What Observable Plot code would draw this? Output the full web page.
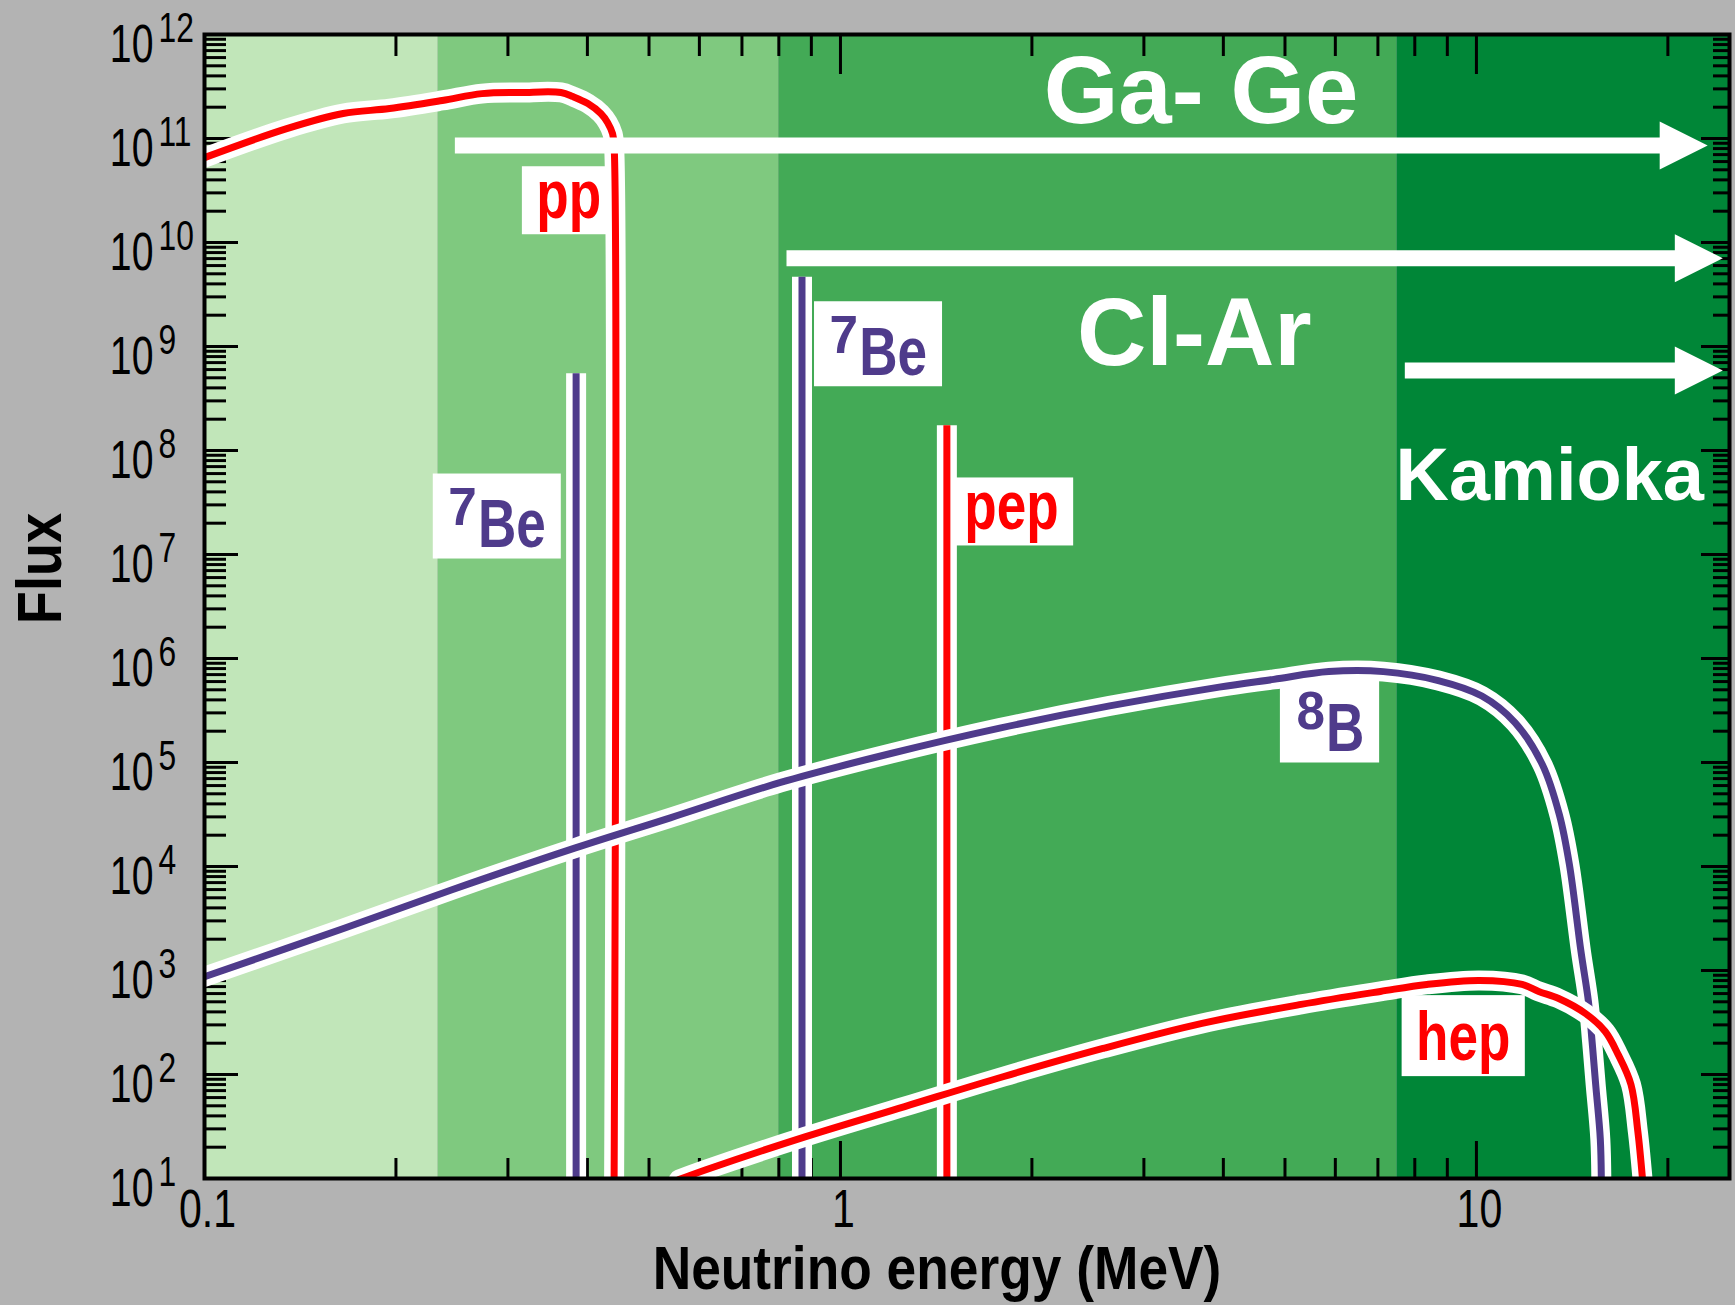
<!DOCTYPE html>
<html>
<head>
<meta charset="utf-8">
<script src="https://cdn.jsdelivr.net/npm/d3@7"></script>
<script src="https://cdn.jsdelivr.net/npm/@observablehq/plot@0.6"></script>
<style>
  html, body { margin: 0; padding: 0; background: #b3b3b3; }
  #chart svg { display: block; }
</style>
</head>
<body>
<div id="chart"></div>
<script>
// ---------------- data ----------------
// detector threshold bands (MeV)
const bandEdges  = [0.1, 0.233, 0.8, 7.5, 25];
const bandColors = ["#c1e6b9", "#7fc97f", "#43aa56", "#008637"];

// pp continuum
const ppEnergy = [0.1, 0.1347, 0.1652, 0.1955, 0.2365, 0.273, 0.315, 0.3636, 0.3797, 0.4007, 0.4199, 0.4305, 0.4382, 0.4406, 0.4406];
const ppFlux   = [6.55e10, 1.245e11, 1.74e11, 1.94e11, 2.32e11, 2.70e11, 2.77e11, 2.77e11, 2.53e11, 2.17e11, 1.74e11, 1.42e11, 1.11e11, 8.5e10, 9];

// 8B continuum
const b8Energy = [0.1, 0.165, 0.245, 0.383, 0.54, 0.805, 1.2, 1.78, 2.65, 3.94, 4.8, 5.86, 7.14, 8.71, 10.2, 11.5, 12.7, 13.5, 14.0, 14.6, 15.0, 15.2, 15.4, 15.66, 15.72];
const b8Flux   = [871, 2520, 5970, 1.51e4, 2.94e4, 6.43e4, 1.22e5, 2.14e5, 3.50e5, 5.31e5, 6.30e5, 7.48e5, 7.48e5, 6.14e5, 4.36e5, 2.42e5, 9.53e4, 3.16e4, 1.05e4, 1528, 505, 208, 80, 24, 9];

// hep continuum
const hepEnergy = [0.557, 0.616, 0.882, 1.262, 1.807, 2.587, 3.703, 5.30, 7.063, 8.357, 10.11, 11.80, 12.53, 13.47, 14.84, 15.94, 16.70, 17.50, 17.94, 18.27];
const hepFlux   = [9.75, 12.2, 25.3, 49.2, 95.7, 178, 310, 472, 629, 735, 803, 735, 629, 538, 386, 259, 156, 80, 28.3, 9];

// mono-energetic lines
const lineSource = ["7Be", "7Be", "pep"];
const lineEnergy = [0.384, 0.87, 1.47];
const lineFlux   = [5.46e8, 4.63e9, 1.73e8];

// detectors: sensitivity arrows and names
const detName    = ["Ga- Ge", "Cl-Ar", "Kamioka"];
const arrowFrom  = [0.248, 0.824, 7.73];
const arrowTo    = [23.1, 24.4, 24.4];
const arrowFlux  = [8.55e10, 7.06e9, 5.89e8];
const detNameE   = [3.69, 3.60, 13.04];
const detNameF   = [1.42e11, 6.67e8, 3.35e7];

// source labels
const labelText = ["pp", "Be", "Be", "pep", "B", "hep"];
const labelSup  = ["", "7", "7", "", "8", ""];
const labelE    = [0.3324, 0.2691, 1.070, 1.566, 5.80, 8.035];
const labelF    = [1.73e10, 1.18e7, 5.35e8, 1.76e7, 1.29e5, 139];
const labelKind = ["red", "purple", "purple", "red", "purple", "red"];

// axes
const xMajorTicks  = [0.1, 1, 10];
const xTickLabels  = ["0.1", "1", "10"];
const xMinorTicks  = [0.2, 0.3, 0.4, 0.5, 0.6, 0.7, 0.8, 0.9, 2, 3, 4, 5, 6, 7, 8, 9, 20];
const yExponents   = [1, 2, 3, 4, 5, 6, 7, 8, 9, 10, 11, 12];
const xTitle = "Neutrino energy (MeV)";
const yTitle = "Flux";

// ---------------- layout & style ----------------
const W = 1735, H = 1305;
const M = {top: 34, right: 6, bottom: 127, left: 204};
const plotW = W - M.left - M.right, plotH = H - M.top - M.bottom;
const SANS = '"Liberation Sans", Arial, sans-serif';
const COLORS = {red: "#ff0000", purple: "#4f3b8b"};
const LABEL_SIZE = 68, SUP_SIZE = 54, SUP_RAISE = 22;
// horizontal condensation imitating the narrow pixel fonts of the original
const COND = {label: 0.78, sup: 0.95, tick: 0.74, xtick: 0.76, title: 0.86};

// ---------------- derived tables ----------------
const rows = (E, F) => E.map((e, i) => ({E: e, F: F[i]}));
const yBottom = 10 ** yExponents[0];
const bands = bandColors.map((c, i) => ({x1: bandEdges[i], x2: bandEdges[i + 1], fill: c}));
const spectra = [
  {rows: rows(ppEnergy, ppFlux), color: COLORS.red},
  {rows: rows(b8Energy, b8Flux), color: COLORS.purple},
  {rows: rows(hepEnergy, hepFlux), color: COLORS.red}
];
const lines = lineEnergy.map((e, i) => ({E: e, F: lineFlux[i], base: yBottom,
  color: lineSource[i] === "pep" ? COLORS.red : COLORS.purple}));
const arrows = detName.map((n, i) => ({name: n, from: arrowFrom[i], to: arrowTo[i], F: arrowFlux[i]}));
const dets = detName.map((n, i) => ({name: n, E: detNameE[i], F: detNameF[i]}));
const labels = labelText.map((t, i) => ({text: t, sup: labelSup[i], E: labelE[i], F: labelF[i], color: COLORS[labelKind[i]]}));
const xMajor = xMajorTicks.map((v, i) => ({v, label: xTickLabels[i]}));
const yMajor = yExponents.map(e => ({v: 10 ** e, exp: String(e)}));
const yMinor = yExponents.slice(0, -1).flatMap(e => [2, 3, 4, 5, 6, 7, 8, 9].map(k => k * 10 ** e));

// right-pointing filled arrow head (tip at the anchor)
const headSymbol = {
  draw(ctx, size) {
    const s = Math.sqrt(size / Math.PI);
    ctx.moveTo(0, 0);
    ctx.lineTo(-2 * s, -s);
    ctx.lineTo(-2 * s, s);
    ctx.closePath();
  }
};

function build(boxes) {
  const marks = [];
  marks.push(Plot.rect(bands, {x1: "x1", x2: "x2", fill: "fill"}));

  // inward ticks on all four sides
  const tk = {stroke: "black", strokeWidth: 3};
  marks.push(Plot.tickX(xMinorTicks, {x: d => d, insetTop: plotH - 20, ...tk}));
  marks.push(Plot.tickX(xMinorTicks, {x: d => d, insetBottom: plotH - 22, ...tk}));
  marks.push(Plot.tickX(xMajor, {x: "v", insetTop: plotH - 37, ...tk}));
  marks.push(Plot.tickX(xMajor, {x: "v", insetBottom: plotH - 40, ...tk}));
  marks.push(Plot.tickY(yMinor, {y: d => d, insetRight: plotW - 22, ...tk}));
  marks.push(Plot.tickY(yMinor, {y: d => d, insetLeft: plotW - 16, ...tk}));
  marks.push(Plot.tickY(yMajor, {y: "v", insetRight: plotW - 34, ...tk}));
  marks.push(Plot.tickY(yMajor, {y: "v", insetLeft: plotW - 28, ...tk}));

  if (boxes) marks.push(Plot.rect(boxes, {x1: "x1", x2: "x2", y1: "y1", y2: "y2", fill: "white"}));

  // mono-energetic lines
  marks.push(Plot.ruleX(lines, {x: "E", y1: "F", y2: "base", stroke: "white", strokeWidth: 20, clip: true}));
  marks.push(Plot.ruleX(lines, {x: "E", y1: "F", y2: "base", stroke: "color", strokeWidth: 7, clip: true}));

  // continua (white halo, then colour)
  for (const s of spectra) {
    marks.push(Plot.line(s.rows, {x: "E", y: "F", curve: "catmull-rom", stroke: "white", strokeWidth: 20, strokeLinejoin: "round", clip: true}));
    marks.push(Plot.line(s.rows, {x: "E", y: "F", curve: "catmull-rom", stroke: s.color, strokeWidth: 7, strokeLinejoin: "round", clip: true}));
  }

  // source labels
  marks.push(Plot.text(labels, {x: "E", y: "F", text: "text", fill: "color", textAnchor: "start", lineAnchor: "bottom",
    fontSize: LABEL_SIZE, fontWeight: "bold", fontFamily: SANS, ariaDescription: "cond:" + COND.label}));
  marks.push(Plot.text(labels.filter(d => d.sup), {x: "E", y: "F", text: "sup", fill: "color", textAnchor: "end", lineAnchor: "bottom",
    dx: -1, dy: -SUP_RAISE, fontSize: SUP_SIZE, fontWeight: "bold", fontFamily: SANS, ariaDescription: "cond:" + COND.sup}));

  // detector arrows
  marks.push(Plot.ruleY(arrows, {y: "F", x1: "from", x2: "to", stroke: "white", strokeWidth: 16, insetRight: 40}));
  marks.push(Plot.dot(arrows, {x: "to", y: "F", symbol: headSymbol, r: 24, fill: "white"}));
  marks.push(Plot.text(dets, {x: "E", y: "F", text: "name", fill: "white", textAnchor: "middle", lineAnchor: "bottom",
    fontSize: d => d.name === "Kamioka" ? 74 : 96, fontWeight: "bold", fontFamily: SANS}));

  marks.push(Plot.frame({stroke: "black", strokeWidth: 4}));

  // tick labels
  marks.push(Plot.text(xMajor, {x: "v", text: "label", frameAnchor: "bottom", textAnchor: "middle", lineAnchor: "bottom", dx: 3, dy: 48,
    fontSize: 54, fontFamily: SANS, fill: "black", ariaDescription: "cond:" + COND.xtick}));
  marks.push(Plot.text(yMajor, {y: "v", text: () => "10", frameAnchor: "left", textAnchor: "end", lineAnchor: "bottom",
    dx: -51, dy: 27, fontSize: 53, fontFamily: SANS, fill: "black", ariaDescription: "cond:" + COND.tick}));
  marks.push(Plot.text(yMajor, {y: "v", text: "exp", frameAnchor: "left", textAnchor: "start", lineAnchor: "bottom",
    dx: -46, dy: 7, fontSize: 43, fontFamily: SANS, fill: "black", ariaDescription: "cond:" + COND.tick}));

  // axis titles
  marks.push(Plot.text([xTitle], {text: d => d, frameAnchor: "bottom", textAnchor: "middle", lineAnchor: "bottom", dx: -30, dy: 110,
    fontSize: 62, fontWeight: "bold", fontFamily: SANS, fill: "black", ariaDescription: "cond:" + COND.title}));
  marks.push(Plot.text([yTitle], {text: d => d, frameAnchor: "left", textAnchor: "middle", lineAnchor: "middle", rotate: -90, dx: -164, dy: -38,
    fontSize: 63, fontWeight: "bold", fontFamily: SANS, fill: "black", ariaDescription: "cond:" + COND.title}));

  return Plot.plot({
    width: W, height: H,
    marginTop: M.top, marginRight: M.right, marginBottom: M.bottom, marginLeft: M.left,
    x: {type: "log", domain: [bandEdges[0], bandEdges[bandEdges.length - 1]], axis: null},
    y: {type: "log", domain: [yBottom, 10 ** yExponents[yExponents.length - 1]], axis: null},
    style: {background: "#b3b3b3", fontFamily: SANS, overflow: "visible"},
    marks
  });
}

// first pass: obtain the scales, then size the white label boxes from the text metrics
const first = build(null);
const sx = first.scale("x"), sy = first.scale("y");
const ctx = document.createElement("canvas").getContext("2d");
function glyphBox(str, size, align, ax, ay, k) {
  ctx.font = `bold ${size}px ${SANS}`;
  ctx.textAlign = align;
  ctx.textBaseline = "alphabetic";
  const m = ctx.measureText(str);
  return {l: ax - k * m.actualBoundingBoxLeft, r: ax + k * m.actualBoundingBoxRight,
          t: ay - m.actualBoundingBoxAscent, b: ay + m.actualBoundingBoxDescent};
}
const PAD = {x: 17, top: 14, bottom: 3, belowBaseline: 12};
const boxes = labels.map(d => {
  const ax = sx.apply(d.E), ay = sy.apply(d.F);
  const b = glyphBox(d.text, LABEL_SIZE, "left", ax, ay, COND.label);
  if (d.sup) {
    const s = glyphBox(d.sup, SUP_SIZE, "right", ax - 1, ay - SUP_RAISE, COND.sup);
    b.l = Math.min(b.l, s.l); b.r = Math.max(b.r, s.r);
    b.t = Math.min(b.t, s.t); b.b = Math.max(b.b, s.b);
  }
  const bottom = Math.max(ay + PAD.belowBaseline, b.b + PAD.bottom);
  return {
    x1: sx.invert(b.l - PAD.x), x2: sx.invert(b.r + PAD.x),
    y1: sy.invert(b.t - PAD.top), y2: sy.invert(bottom)
  };
});

const chart = build(boxes);
document.getElementById("chart").append(chart);

// condense the glyphs of the narrow-font texts horizontally about their anchors
for (const g of chart.querySelectorAll('g[aria-description^="cond:"]')) {
  const k = +g.getAttribute("aria-description").slice(5);
  for (const t of g.querySelectorAll("text")) {
    const tr = t.getAttribute("transform") || "";
    t.setAttribute("transform", `${tr} scale(${k},1)`.trim());
  }
}
</script>
</body>
</html>
